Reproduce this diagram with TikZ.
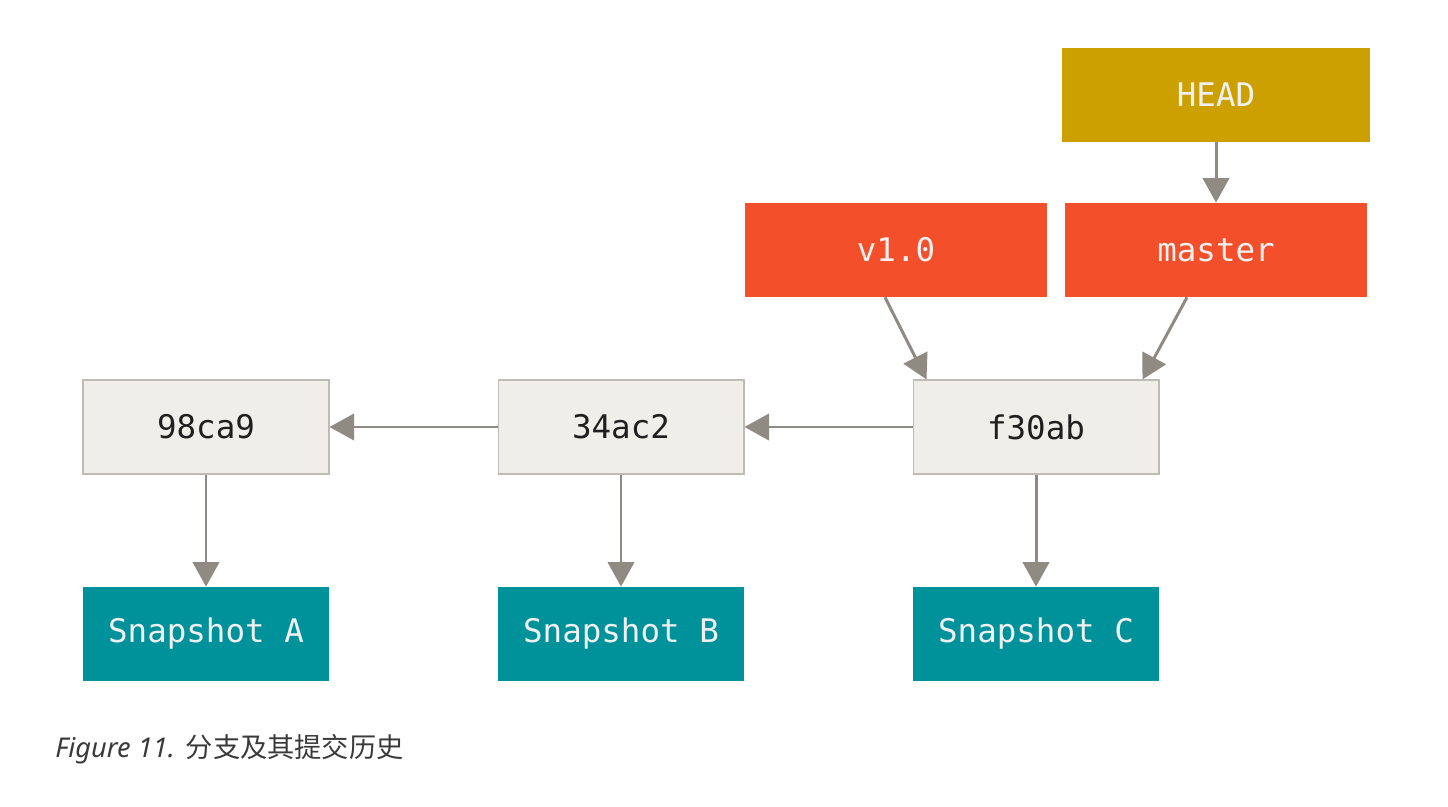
\documentclass[tikz,border=0pt]{standalone}
\usepackage{fontspec}
\setmonofont{DejaVu Sans Mono}
\newfontfamily\capfont{Noto Sans}
\newfontfamily\cjk{Noto Sans CJK SC}
\usetikzlibrary{arrows.meta,positioning}
\definecolor{headfill}{HTML}{CCA000}
\definecolor{reffill}{HTML}{F34F2B}
\definecolor{commitfill}{HTML}{EFEEE8}
\definecolor{commitline}{HTML}{BFBCB5}
\definecolor{snapfill}{HTML}{00929A}
\definecolor{arrowgrey}{HTML}{8F8A82}
\definecolor{captext}{HTML}{3A3A3A}

\begin{document}
\begin{tikzpicture}[x=0.02cm,y=-0.02cm,
  box/.style={minimum height=1.88cm,inner sep=0pt,font=\fontsize{18.5}{22}\selectfont\ttfamily},
  headbox/.style={box,fill=headfill,text=white!94!black,minimum width=6.16cm},
  refbox/.style={box,fill=reffill,text=white!94!black,minimum width=6.04cm},
  commit/.style={box,fill=commitfill,draw=commitline,line width=0.6pt,text=black!88,minimum width=4.92cm},
  snapbox/.style={box,fill=snapfill,text=white!94!black,minimum width=4.92cm},
  link/.style={draw=arrowgrey,line width=1.7pt,-{Triangle[length=14pt,width=15pt]}}]
\useasboundingbox (0,0) rectangle (1448,807);

% refs
\node[headbox] (head) at (1216,95) {HEAD};
\node[refbox] (v10) at (896,250) {v1.0};
\node[refbox] (master) at (1216,250) {master};

% commits
\node[commit] (c98ca9) at (206,427) {98ca9};
\node[commit] (c34ac2) at (621,427) {34ac2};
\node[commit] (cf30ab) at (1036,427) {f30ab};

% snapshots
\node[snapbox] (snapA) at (206,634) {Snapshot A};
\node[snapbox] (snapB) at (621,634) {Snapshot B};
\node[snapbox] (snapC) at (1036,634) {Snapshot C};

\draw[link] (head) -- (master);
\draw[link] ([xshift=-0.22cm]v10.south) -- ([xshift=0.28cm]cf30ab.north west);
\draw[link] ([xshift=-0.58cm]master.south) -- ([xshift=-0.34cm]cf30ab.north east);
\draw[link] (cf30ab) -- (c34ac2);
\draw[link] (c34ac2) -- (c98ca9);
\draw[link] (c98ca9) -- (snapA);
\draw[link] (c34ac2) -- (snapB);
\draw[link] (cf30ab) -- (snapC);

\node[anchor=base west,inner sep=0pt,text=captext,font=\fontsize{15.5}{18}\selectfont] (caption) at (55,757) {{\capfont\itshape Figure 11.} {\cjk 分支及其提交历史}};
\end{tikzpicture}
\end{document}
